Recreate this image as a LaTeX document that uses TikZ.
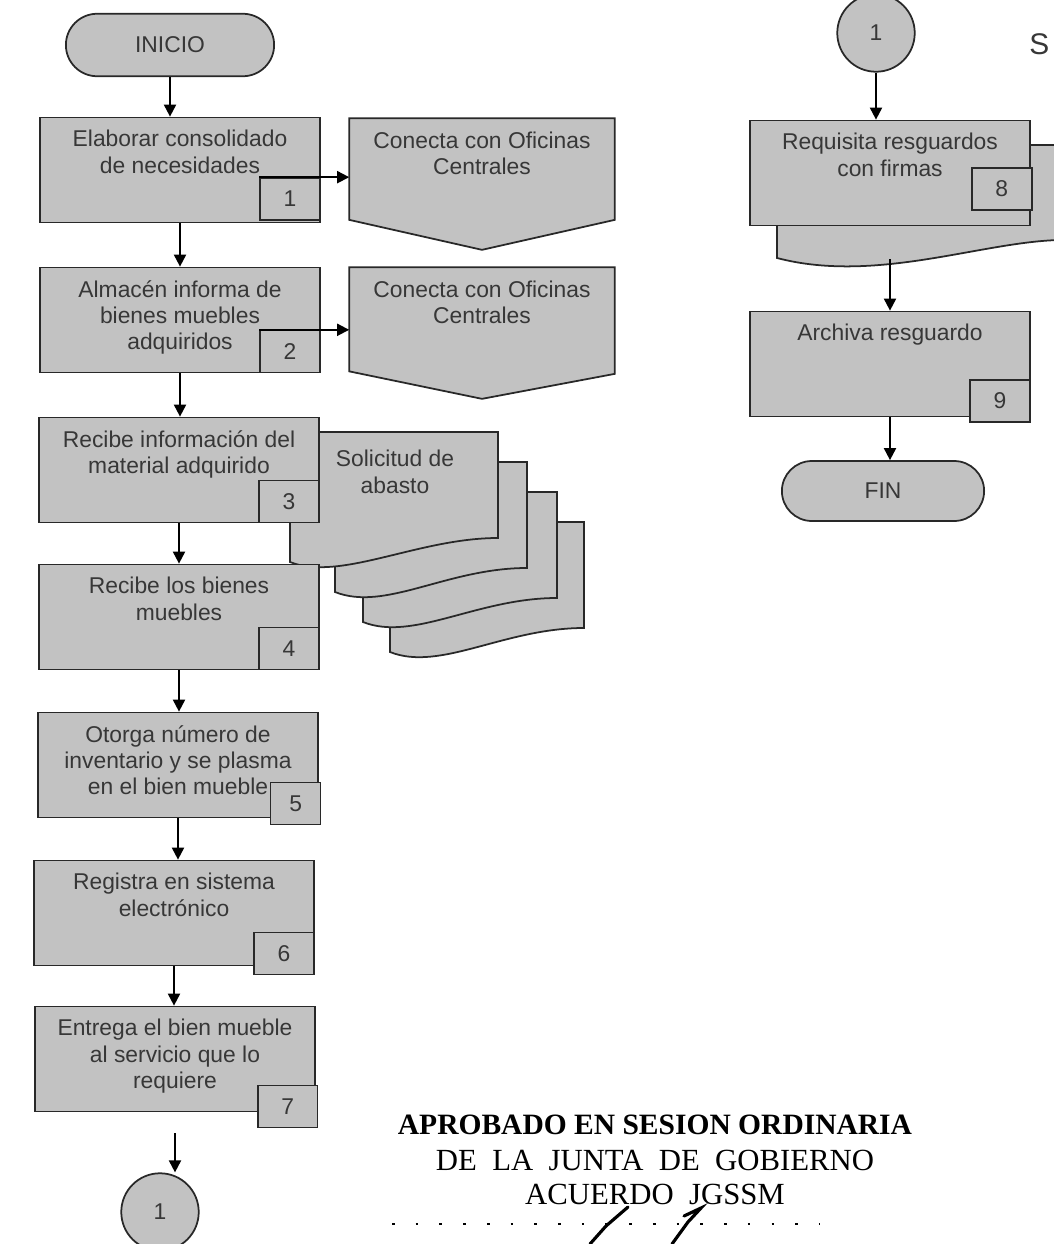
\documentclass[tikz,border=0pt]{standalone}
\usepackage{fontspec}
\setmainfont{Liberation Sans}
\newfontfamily\stampfont{Liberation Serif}
\usetikzlibrary{
    positioning,  % nós relativos (below=of ...)
    arrows.meta,  % pontas de seta
    shapes.misc,  % rounded rectangle para INICIO / FIN
    backgrounds   % folhas e conectores atrás das caixas
}

\definecolor{boxgray}{RGB}{194,194,194}
\definecolor{txtgray}{RGB}{55,55,55}
\definecolor{linegray}{RGB}{40,40,40}
\newcommand{\flowfont}{\fontsize{13}{15}\selectfont}
\newcommand{\numfont}{\fontsize{13}{15}\selectfont}
\newcommand{\stampsize}{\fontsize{17.5}{19}\selectfont}

\begin{document}
\begin{tikzpicture}[x=0.02cm, y=-0.02cm]

    % --- Estilos ---
    \tikzset{
        % caixa de processo
        proc_box/.style={
            rectangle,
            draw=linegray,
            line width=1pt,
            fill=boxgray,
            minimum width=5.6cm,
            minimum height=2.1cm
        },
        % texto no alto da caixa
        box_txt/.style={
            anchor=north,
            yshift=-0.15cm,
            align=center,
            text=txtgray,
            font=\flowfont
        },
        % número do passo
        num_box/.style={
            draw=linegray,
            line width=0.9pt,
            fill=boxgray,
            minimum width=1.2cm,
            minimum height=0.84cm,
            anchor=south east,
            text=txtgray,
            font=\numfont
        },
        term_box/.style={
            rounded rectangle,
            draw=linegray,
            line width=1pt,
            fill=boxgray,
            minimum width=4.4cm,
            minimum height=1.25cm,
            text=txtgray,
            font=\flowfont
        },
        link_circle/.style={
            circle,
            draw=linegray,
            line width=1pt,
            fill=boxgray,
            minimum size=1.55cm,
            text=txtgray,
            font=\flowfont
        },
        offpage/.style={draw=none, minimum width=5.3cm, minimum height=2.62cm},
        sheet_fill/.style={draw=linegray, line width=1pt, fill=boxgray},
        stamp_txt/.style={inner sep=0pt, font=\stampfont\stampsize},
        flow_arrow/.style={
            -{Triangle[length=2.4mm,width=2.4mm]},
            line width=1.1pt,
            draw=black
        }
    }

    \useasboundingbox (0,0) rectangle (1054,1244);

    % --- Coluna esquerda ---
    \node[term_box] (inicio) at (170,45) {INICIO};

    \node[proc_box, label={[box_txt]north:{Elaborar consolidado\\de necesidades}}] (b1) at (180,170) {};
    \node[num_box] (n1) at ([yshift=1.5pt]b1.south east) {1};

    \node[proc_box, label={[box_txt]north:{Almacén informa de\\bienes muebles\\adquiridos}}] (b2) at (180,320) {};
    \node[num_box] (n2) at (b2.south east) {2};

    \node[proc_box, label={[box_txt]north:{Recibe información del\\material adquirido}}] (b3) at (179,470) {};
    \node[num_box] (n3) at (b3.south east) {3};

    \node[proc_box, label={[box_txt]north:{Recibe los bienes\\muebles}}] (b4) at (179,617) {};
    \node[num_box] (n4) at (b4.south east) {4};

    \node[proc_box, label={[box_txt]north:{Otorga número de\\inventario y se plasma\\en el bien mueble}}] (b5) at (178,765) {};
    \node[num_box, minimum width=1cm] (n5) at ([xshift=1.5pt,yshift=-4pt]b5.south east) {5};

    \node[proc_box, label={[box_txt]north:{Registra en sistema\\electrónico}}] (b6) at (174,913) {};
    \node[num_box] (n6) at ([yshift=-5pt]b6.south east) {6};

    \node[proc_box, label={[box_txt]north:{Entrega el bien mueble\\al servicio que lo\\requiere}}] (b7) at (175,1059) {};
    \node[num_box] (n7) at ([xshift=1.5pt,yshift=-9pt]b7.south east) {7};

    \node[link_circle] (link_a) at (160,1212) {1};

    % --- Conectores com Oficinas Centrales ---
    \node[offpage, label={[box_txt]north:{Conecta con Oficinas\\Centrales}}] (ofc1) at (482,184) {};
    \node[offpage, label={[box_txt]north:{Conecta con Oficinas\\Centrales}}] (ofc2) at (482,333) {};

    % --- Documento: solicitud de abasto ---
    \node[align=center, text=txtgray, font=\flowfont] (solicitud) at (395,472) {Solicitud de\\abasto};

    % --- Coluna direita ---
    \node[link_circle] (link_b) at (876,33) {1};

    \node[proc_box, label={[box_txt]north:{Requisita resguardos\\con firmas}}] (b8) at (890,173) {};
    \node[num_box] (n8) at ([xshift=1pt,yshift=9pt]b8.south east) {8};
    \coordinate (b8_doc) at (890,259);

    \node[proc_box, label={[box_txt]north:{Archiva resguardo}}] (b9) at (890,364) {};
    \node[num_box] (n9) at ([yshift=-3pt]b9.south east) {9};

    \node[term_box, minimum width=4.28cm, minimum height=1.2cm] (fin) at (883,491) {FIN};

    \node[anchor=west, inner sep=0pt, text=txtgray, font=\fontsize{17}{17}\selectfont] (s_cut) at (1029,44) {S};

    % --- Formas de fundo ---
    \begin{scope}[on background layer]
        \draw[sheet_fill] (ofc1.north west) -- (ofc1.north east) -- ([yshift=0.6cm]ofc1.south east)
            -- (ofc1.south) -- ([yshift=0.6cm]ofc1.south west) -- cycle;
        \draw[sheet_fill] (ofc2.north west) -- (ofc2.north east) -- ([yshift=0.5cm]ofc2.south east)
            -- (ofc2.south) -- ([yshift=0.55cm]ofc2.south west) -- cycle;
        % pilha de folhas
        \foreach \sx/\sy/\sw in {390/522/194, 363/492/194, 335/462/192, 290/432/208}
            \draw[sheet_fill] (\sx,\sy) -- ++(\sw,0) -- ++(0,106)
                .. controls +(-80,0) and +(50,20) .. (\sx,\sy+130) -- cycle;
        % folha atrás do passo 8
        \draw[sheet_fill] (777,145) -- (1070,145) -- (1070,240)
            .. controls (990,238) and (880,285) .. (777,258) -- cycle;
    \end{scope}

    % --- Setas ---
    \draw[flow_arrow] (inicio.south) -- (inicio.south |- b1.north);
    \draw[flow_arrow] (b1.south) -- (b1.south |- b2.north);
    \draw[flow_arrow] (b2.south) -- (b2.south |- b3.north);
    \draw[flow_arrow] (b3.south) -- (b3.south |- b4.north);
    \draw[flow_arrow] (b4.south) -- (b4.south |- b5.north);
    \draw[flow_arrow] (b5.south) -- (b5.south |- b6.north);
    \draw[flow_arrow] (b6.south) -- (b6.south |- b7.north);
    \draw[flow_arrow] ([yshift=-12pt]b7.south) -- (b7.south |- link_a.north);

    \draw[flow_arrow] (n1.north west) -- (n1.north east -| ofc1.west);
    \draw[flow_arrow] (n2.north west) -- (n2.north east -| ofc2.west);

    \draw[flow_arrow] (link_b.south) -- (link_b.south |- b8.north);
    \draw[flow_arrow] (b8_doc) -- (b8_doc |- b9.north);
    \draw[flow_arrow] (b9.south) -- (b9.south |- fin.north);

    % --- Carimbo ---
    \node[stamp_txt, font=\stampfont\bfseries\fontsize{16.8}{18}\selectfont] (aprobado) at (655,1125) {APROBADO EN SESION ORDINARIA};
    \node[stamp_txt, below=0.3cm of aprobado] (junta) {DE\ \ LA\ \ JUNTA\ \ DE\ \ GOBIERNO};
    \node[stamp_txt, below=0.25cm of junta] (acuerdo) {ACUERDO\ \ JGSSM};

    % firma
    \draw[line width=1.8pt, line cap=round] (590,1244) -- (606,1226) -- (628,1207);
    \draw[line width=1.8pt, line cap=round] (672,1244) -- (688,1222) -- (701,1208) -- (684,1216);
    \draw[line width=1pt, dash pattern=on 1.5pt off 12pt] (392,1224) -- (820,1224);

\end{tikzpicture}
\end{document}
